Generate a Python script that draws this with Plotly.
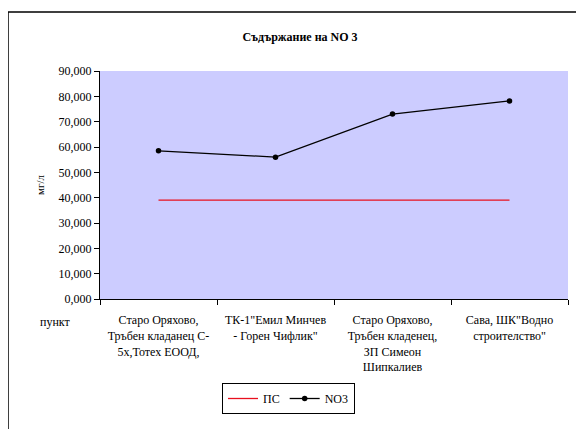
import plotly.graph_objects as go

categories = [
    "Старо Оряхово,<br>Тръбен кладанец С-<br>5х,Тотех ЕООД,",
    "ТК-1\"Емил Минчев<br>- Горен Чифлик\"",
    "Старо Оряхово,<br>Тръбен кладенец,<br>ЗП Симеон<br>Шипкалиев",
    "Сава, ШК\"Водно<br>строителство\"",
]
ps_values = [39.0, 39.0, 39.0, 39.0]
no3_values = [58.5, 56.0, 73.0, 78.2]
y_ticks = [0, 10, 20, 30, 40, 50, 60, 70, 80, 90]

FONT = "Liberation Serif, Times New Roman, DejaVu Serif, serif"
OFF = 8  # page body margin
W, H = 584 - OFF, 429 - OFF
# plot area in window pixels: x 100..568, y 71..299
L, R, T, B = 100 - OFF, 584 - 568, 71 - OFF, 429 - 299
pw = W - L - R
ph = H - T - B

def px(x):
    return (x - OFF - L) / pw

def py(y):
    return (H - B - (y - OFF)) / ph

fig = go.Figure()
fig.add_trace(go.Scatter(
    x=categories, y=ps_values, name="ПС", mode="lines",
    line=dict(color="#E8101E", width=1.3),
))
fig.add_trace(go.Scatter(
    x=categories, y=no3_values, name="NO3", mode="lines+markers",
    line=dict(color="black", width=1.3),
    marker=dict(color="black", size=5.5),
))

fig.update_layout(
    width=W, height=H,
    margin=dict(l=L, r=R, t=T, b=B, autoexpand=False),
    paper_bgcolor="white",
    plot_bgcolor="#CCCCFF",
    separators=", ",
    font=dict(family=FONT, size=12, color="black"),
    title=dict(text="<b>Съдържание на NO 3</b>", xref="paper", x=px(300),
               xanchor="center", yref="container", y=1 - (37 - OFF) / H,
               yanchor="middle", font=dict(family=FONT, size=12)),
    showlegend=True,
    legend=dict(orientation="h", x=px(222), y=py(383), xanchor="left",
                yanchor="top", bordercolor="black", borderwidth=1,
                bgcolor="white", font=dict(family=FONT, size=12),
                itemwidth=30, tracegroupgap=0),
    xaxis=dict(
        type="category", showgrid=False, zeroline=False,
        showline=True, linecolor="black", linewidth=1,
        ticks="outside", ticklen=5, tickcolor="black",
        tickson="boundaries", ticklabelstandoff=10,
        tickfont=dict(family=FONT, size=12),
        range=[-0.5, 3.5],
    ),
    yaxis=dict(
        range=[0, 90], tickvals=y_ticks, tickformat=".3f",
        showgrid=False, zeroline=False,
        showline=True, linecolor="black", linewidth=1,
        ticks="outside", ticklen=5, tickcolor="black",
        tickfont=dict(family=FONT, size=12),
    ),
)

fig.add_annotation(text="мг/л", xref="paper", yref="paper", x=px(40), y=py(185),
                   xanchor="center", yanchor="middle",
                   textangle=-90, showarrow=False,
                   font=dict(family=FONT, size=11))
fig.add_annotation(text="пункт", xref="paper", yref="paper", x=px(55), y=py(322),
                   xanchor="center", yanchor="middle",
                   showarrow=False, font=dict(family=FONT, size=12))

fig.add_shape(type="rect", xref="paper", yref="paper",
              x0=px(8), x1=px(640), y0=py(12), y1=py(500),
              line=dict(color="black", width=1.5), layer="below")

fig.write_html("out.html")
